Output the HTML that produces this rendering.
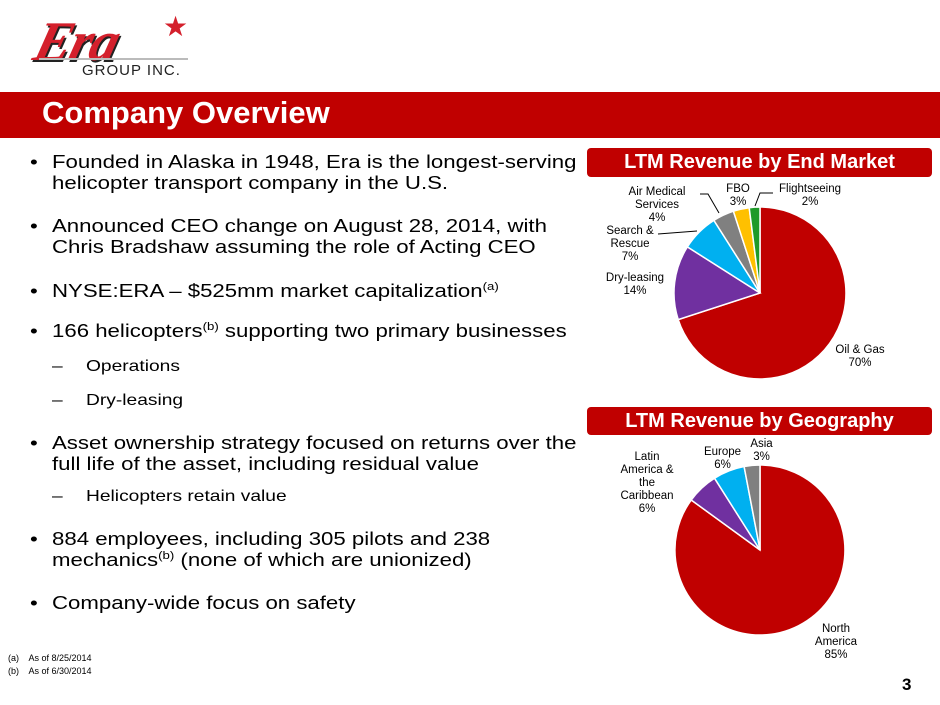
<!DOCTYPE html>
<html><head><meta charset="utf-8"><style>
body{margin:0;width:940px;height:705px;background:#fff;position:relative;overflow:hidden;font-family:"Liberation Sans",Arial,sans-serif;color:#000}
.a{position:absolute;white-space:nowrap}
.t{font-size:18.5px;transform:scaleX(1.2);transform-origin:0 0}
.s{font-size:16px;transform:scaleX(1.2);transform-origin:0 0}
sup{font-size:11px;vertical-align:7px;line-height:0}
.lb{font-size:11.5px;text-align:center;line-height:13px;color:#000}
</style></head><body>
<!-- logo -->
<div class="a" style="left:36px;top:10px;font:italic bold 56px 'Liberation Serif',serif;color:#d4202c;letter-spacing:-2px;text-shadow:2px 2px 0 #222;transform:skewX(-15deg)">Era</div>
<div class="a" style="left:163px;top:10px;font-size:28px;color:#d4202c">★</div>
<div class="a" style="left:39px;top:58px;width:149px;height:2px;background:#bbb"></div>
<div class="a" style="left:82px;top:62px;font-size:15px;letter-spacing:1px;color:#222">GROUP INC.</div>
<!-- banner -->
<div class="a" style="left:0;top:92px;width:940px;height:46px;background:#c00000"></div>
<div class="a" style="left:42px;top:95px;font-size:31px;font-weight:bold;color:#fff">Company Overview</div>
<!-- bullets -->
<div class="a t" style="left:30px;top:151px">•</div>
<div class="a t" style="left:52px;top:151px;line-height:21px">Founded in Alaska in 1948, Era is the longest-serving<br>helicopter transport company in the U.S.</div>
<div class="a t" style="left:30px;top:215px">•</div>
<div class="a t" style="left:52px;top:215px;line-height:21px">Announced CEO change on August 28, 2014, with<br>Chris Bradshaw assuming the role of Acting CEO</div>
<div class="a t" style="left:30px;top:280px">•</div>
<div class="a t" style="left:52px;top:280px">NYSE:ERA – $525mm market capitalization<sup>(a)</sup></div>
<div class="a t" style="left:30px;top:320px">•</div>
<div class="a t" style="left:52px;top:320px">166 helicopters<sup>(b)</sup> supporting two primary businesses</div>
<div class="a s" style="left:52px;top:358px">–</div>
<div class="a s" style="left:86px;top:358px">Operations</div>
<div class="a s" style="left:52px;top:392px">–</div>
<div class="a s" style="left:86px;top:392px">Dry-leasing</div>
<div class="a t" style="left:30px;top:432px">•</div>
<div class="a t" style="left:52px;top:432px;line-height:21px">Asset ownership strategy focused on returns over the<br>full life of the asset, including residual value</div>
<div class="a s" style="left:52px;top:488px">–</div>
<div class="a s" style="left:86px;top:488px">Helicopters retain value</div>
<div class="a t" style="left:30px;top:528px">•</div>
<div class="a t" style="left:52px;top:528px;line-height:21px">884 employees, including 305 pilots and 238<br>mechanics<sup>(b)</sup> (none of which are unionized)</div>
<div class="a t" style="left:30px;top:592px">•</div>
<div class="a t" style="left:52px;top:592px">Company-wide focus on safety</div>
<div class="a" style="left:8px;top:652px;font-size:9px;line-height:13px">(a)&nbsp;&nbsp;&nbsp; As of 8/25/2014<br>(b)&nbsp;&nbsp;&nbsp; As of 6/30/2014</div>
<div class="a" style="left:902px;top:675px;font-size:17px;font-weight:bold">3</div>
<!-- chart headers -->
<div class="a" style="left:587px;top:148px;width:345px;height:29px;background:#c00000;border-radius:4px;color:#fff;font-weight:bold;font-size:20px;text-align:center;line-height:29px">LTM Revenue by End Market</div>
<div class="a" style="left:587px;top:407px;width:345px;height:28px;background:#c00000;border-radius:4px;color:#fff;font-weight:bold;font-size:20px;text-align:center;line-height:29px">LTM Revenue by Geography</div>
<svg class="a" style="left:0;top:0" width="940" height="705">
<g stroke="#fff" stroke-width="1.5">
<path d="M760,293 L760,207 A86,86 0 1,1 678.2,319.6Z" fill="#c00000"/>
<path d="M760,293 L678.2,319.6 A86,86 0 0,1 687.4,246.9Z" fill="#7030a0"/>
<path d="M760,293 L687.4,246.9 A86,86 0 0,1 713.9,220.4Z" fill="#00b0f0"/>
<path d="M760,293 L713.9,220.4 A86,86 0 0,1 733.4,211.2Z" fill="#808080"/>
<path d="M760,293 L733.4,211.2 A86,86 0 0,1 749.2,207.7Z" fill="#ffc000"/>
<path d="M760,293 L749.2,207.7 A86,86 0 0,1 760,207Z" fill="#1f9a2a"/>
<path d="M760,550 L760,465 A85,85 0 1,1 691.2,500Z" fill="#c00000"/>
<path d="M760,550 L691.2,500 A85,85 0 0,1 714.5,478.2Z" fill="#7030a0"/>
<path d="M760,550 L714.5,478.2 A85,85 0 0,1 744.1,466.5Z" fill="#00b0f0"/>
<path d="M760,550 L744.1,466.5 A85,85 0 0,1 760,465Z" fill="#808080"/>
</g>
<g stroke="#000" stroke-width="1" fill="none">
<polyline points="700,194 708,194 719,213"/>
<polyline points="658,234 697,231"/>
<polyline points="773,193 760,193 755,206"/>
</g>
</svg>
<div class="a lb" style="left:612px;top:186px;width:90px">Air Medical<br>Services<br>4%</div>
<div class="a lb" style="left:718px;top:183px;width:40px">FBO<br>3%</div>
<div class="a lb" style="left:770px;top:183px;width:80px">Flightseeing<br>2%</div>
<div class="a lb" style="left:600px;top:225px;width:60px">Search &amp;<br>Rescue<br>7%</div>
<div class="a lb" style="left:600px;top:272px;width:70px">Dry-leasing<br>14%</div>
<div class="a lb" style="left:820px;top:344px;width:80px">Oil &amp; Gas<br>70%</div>
<div class="a lb" style="left:612px;top:451px;width:70px">Latin<br>America &amp;<br>the<br>Caribbean<br>6%</div>
<div class="a lb" style="left:700px;top:446px;width:45px">Europe<br>6%</div>
<div class="a lb" style="left:744px;top:438px;width:35px">Asia<br>3%</div>
<div class="a lb" style="left:806px;top:623px;width:60px">North<br>America<br>85%</div>
</body></html>
